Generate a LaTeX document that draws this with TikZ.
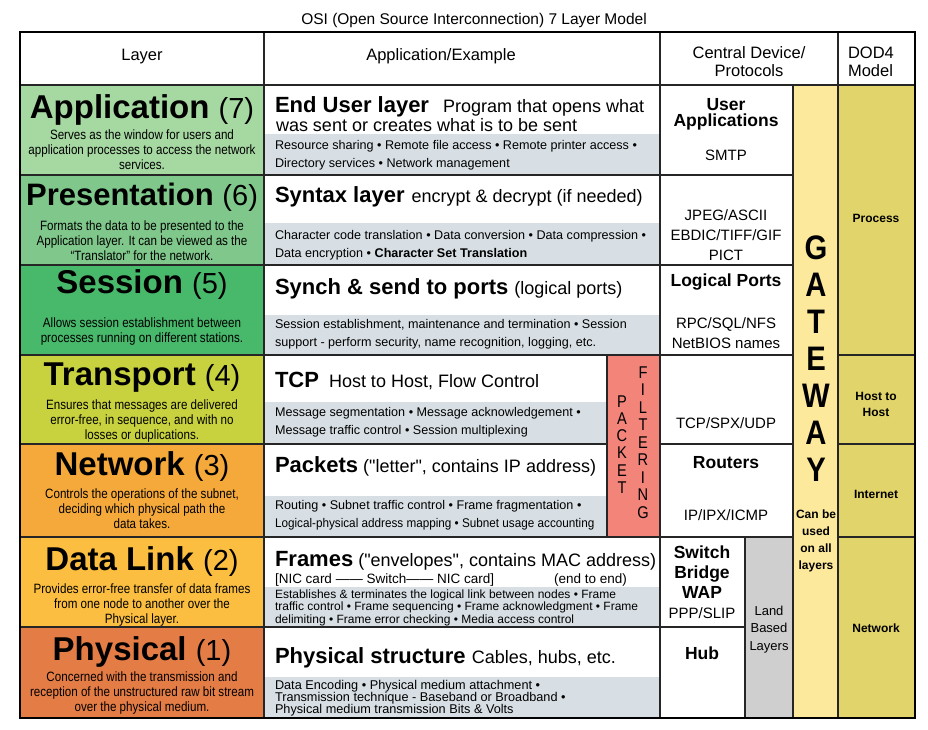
\documentclass[tikz,border=0pt]{standalone}
\usepackage{fontspec}
\setmainfont{Liberation Sans}[Ligatures=TeXOff]
\newfontfamily\narrowf{Liberation Sans}[FakeStretch=0.86,Ligatures=TeXOff]
\newfontfamily\semif{Liberation Sans}[FakeStretch=0.93,Ligatures=TeXOff]
\newcommand\myfs[2]{\fontsize{#1}{#2}\selectfont\lineskiplimit=-30pt\relax}
\newcommand\lnum[1]{{\mdseries\myfs{29}{30}#1}}
\newcommand\hb[1]{{\bfseries\myfs{22}{24}#1}}
\definecolor{cApp}{HTML}{A6D8A2}
\definecolor{cPres}{HTML}{7FC78A}
\definecolor{cSess}{HTML}{48B86B}
\definecolor{cTrans}{HTML}{C8D23E}
\definecolor{cNet}{HTML}{F5A93B}
\definecolor{cDL}{HTML}{FBBE40}
\definecolor{cPhys}{HTML}{E47C46}
\definecolor{cGrey}{HTML}{D8DFE4}
\definecolor{cPack}{HTML}{F2847A}
\definecolor{cLand}{HTML}{CFCFCF}
\definecolor{cGate}{HTML}{FDE99C}
\definecolor{cDod}{HTML}{E1D46A}
\begin{document}
\begin{tikzpicture}[x=1pt,y=-1pt,
 every node/.style={inner sep=0pt,outer sep=0pt},
 grid/.style={line width=1.4pt,draw={black!85}},
 frame/.style={line width=2pt,draw=black},
 hdr/.style={anchor=base,align=center,font=\myfs{16.5}{18}},
 ttl/.style={anchor=base,font=\bfseries\myfs{33}{36}},
 desc/.style={anchor=base,align=center,font=\narrowf\myfs{13.5}{15}},
 head/.style={anchor=base west,font=\myfs{18}{20}},
 grey/.style={anchor=base west,align=left,font=\myfs{12.6}{18}},
 ctr/.style={anchor=base,align=center,font=\myfs{15}{20}},
 ctrb/.style={anchor=base,align=center,font=\bfseries\myfs{17.5}{20}},
 gate/.style={anchor=base,align=center,font=\narrowf\bfseries\myfs{34}{37}},
 pack/.style={anchor=base,align=center,font=\narrowf\myfs{17}{17.3}},
 small/.style={anchor=base,align=center,font=\bfseries\myfs{12}{17}},
 land/.style={anchor=base,align=center,font=\myfs{13}{17.5}}
]
\useasboundingbox (0,0) rectangle (928,729);
\fill[white] (0,0) rectangle (928,729);
% layer column fills
\fill[cApp] (20,85) rectangle (264,175);
\fill[cPres] (20,175) rectangle (264,265);
\fill[cSess] (20,265) rectangle (264,355);
\fill[cTrans] (20,355) rectangle (264,444);
\fill[cNet] (20,444) rectangle (264,537);
\fill[cDL] (20,537) rectangle (264,627);
\fill[cPhys] (20,627) rectangle (264,718);
% grey bands
\fill[cGrey] (264,134) rectangle (660,175);
\fill[cGrey] (264,223) rectangle (660,265);
\fill[cGrey] (264,315) rectangle (660,355);
\fill[cGrey] (264,402) rectangle (607,444);
\fill[cGrey] (264,496) rectangle (607,537);
\fill[cGrey] (264,587) rectangle (660,627);
\fill[cGrey] (264,677) rectangle (660,718);
% special columns
\fill[cPack] (607,355) rectangle (660,537);
\fill[cLand] (745,537) rectangle (793,718);
\fill[cGate] (793,85) rectangle (838,718);
\fill[cDod] (838,85) rectangle (915,718);
% grid lines
\draw[grid] (264,32) -- (264,718);
\draw[grid] (660,32) -- (660,718);
\draw[grid] (838,32) -- (838,718);
\draw[grid] (793,85) -- (793,718);
\draw[grid] (745,537) -- (745,718);
\draw[grid] (607,355) -- (607,537);
\draw[grid] (20,85) -- (915,85);
\foreach \yy in {175,265,355,537} {\draw[grid] (20,\yy) -- (793,\yy);}
\draw[grid] (20,444) -- (607,444);
\draw[grid] (660,444) -- (793,444);
\draw[grid] (20,627) -- (745,627);
\foreach \yy in {355,444,537} {\draw[grid] (838,\yy) -- (915,\yy);}
\draw[frame] (20,32) rectangle (915,718);
% title and headers
\node[anchor=base,font=\myfs{15.5}{17}] (title) at (474,24) {OSI (Open Source Interconnection) 7 Layer Model};
\node[hdr] (hLayer) at (142,60) {Layer};
\node[hdr] (hAppEx) at (441,60) {Application/Example};
\node[hdr] (hCentral) at (749,76) {Central Device/\\Protocols};
\node[hdr,anchor=base west,align=left] (hDod) at (848,76) {DOD4\\Model};
% layer titles
\node[ttl] (tApp) at (142,118) {Application \lnum{(7)}};
\node[ttl,font=\bfseries\myfs{31}{34}] (tPres) at (142,205) {Presentation \lnum{(6)}};
\node[ttl] (tSess) at (142,293) {Session \lnum{(5)}};
\node[ttl] (tTrans) at (142,385) {Transport \lnum{(4)}};
\node[ttl] (tNet) at (142,475) {Network \lnum{(3)}};
\node[ttl] (tDL) at (142,570) {Data Link \lnum{(2)}};
\node[ttl] (tPhys) at (142,660) {Physical \lnum{(1)}};
% layer descriptions (anchor = baseline of last line)
\node[desc] (dApp) at (142,169.5) {Serves as the window for users and\\application processes to access the network\\services.};
\node[desc] (dPres) at (142,260) {Formats the data to be presented to the\\Application layer. It can be viewed as the\\“Translator” for the network.};
\node[desc] (dSess) at (142,342) {Allows session establishment between\\processes running on different stations.};
\node[desc] (dTrans) at (142,439) {Ensures that messages are delivered\\error-free, in sequence, and with no\\losses or duplications.};
\node[desc] (dNet) at (142,528) {Controls the operations of the subnet,\\deciding which physical path the\\data takes.};
\node[desc] (dDL) at (142,623) {Provides error-free transfer of data frames\\from one node to another over the\\Physical layer.};
\node[desc] (dPhys) at (142,711) {Concerned with the transmission and\\reception of the unstructured raw bit stream\\over the physical medium.};
% application/example heads
\node[head] (aApp) at (275,112.5) {\hb{End User layer}\hspace{14pt}Program that opens what};
\node[head] (aApp2) at (276,131) {was sent or creates what is to be sent};
\node[head] (aPres) at (275,202) {\hb{Syntax layer}\hspace{7pt}encrypt \& decrypt (if needed)};
\node[head] (aSess) at (275,294) {\hb{Synch \& send to ports}\hspace{6pt}(logical ports)};
\node[head] (aTrans) at (275,387) {\hb{TCP}\hspace{10pt}Host to Host, Flow Control};
\node[head] (aNet) at (275,472) {\hb{Packets}\hspace{5pt}("letter", contains IP address)};
\node[head] (aDL) at (275,566) {\hb{Frames}\hspace{5pt}("envelopes", contains MAC address)};
\node[head,font=\myfs{13.5}{15}] (aDL2) at (275,583) {[NIC card —— Switch—— NIC card]};
\node[head,font=\myfs{13.5}{15}] (aDL3) at (554,583) {(end to end)};
\node[head] (aPhys) at (275,663) {\hb{Physical structure}\hspace{6pt}Cables, hubs, etc.};
% grey detail text (anchor = baseline of last line)
\node[grey] (gApp) at (275,167) {Resource sharing • Remote file access • Remote printer access •\\Directory services • Network management};
\node[grey] (gPres) at (275,257) {Character code translation • Data conversion • Data compression •\\Data encryption • \textbf{Character Set Translation}};
\node[grey] (gSess) at (275,346) {Session establishment, maintenance and termination • Session\\support - perform security, name recognition, logging, etc.};
\node[grey] (gTrans) at (275,434) {Message segmentation • Message acknowledgement •\\Message traffic control • Session multiplexing};
\node[grey] (gNet) at (275,527) {Routing • Subnet traffic control • Frame fragmentation •\\{\semif Logical-physical address mapping • Subnet usage accounting}};
\node[grey,font=\myfs{12}{12.7}] (gDL) at (275,623.4) {Establishes \& terminates the logical link between nodes • Frame\\traffic control • Frame sequencing • Frame acknowledgment • Frame\\delimiting • Frame error checking • Media access control};
\node[grey,font=\myfs{12.7}{12}] (gPhys) at (275,713) {Data Encoding • Physical medium attachment •\\Transmission technique - Baseband or Broadband •\\Physical medium transmission Bits \& Volts};
% central device / protocols
\node[ctrb,font=\bfseries\myfs{17.5}{16}] (cApp) at (726,126) {User\\Applications};
\node[ctr] (cApp2) at (726,160) {SMTP};
\node[ctr] (cPres) at (726,260) {JPEG/ASCII\\EBDIC/TIFF/GIF\\PICT};
\node[ctrb] (cSess) at (726,286) {Logical Ports};
\node[ctr] (cSess2) at (726,348) {RPC/SQL/NFS\\NetBIOS names};
\node[ctr] (cTrans) at (726,428) {TCP/SPX/UDP};
\node[ctrb] (cNet) at (726,468) {Routers};
\node[ctr] (cNet2) at (726,520) {IP/IPX/ICMP};
\node[ctrb] (cDL) at (702,598) {Switch\\Bridge\\WAP};
\node[ctr] (cDL2) at (702,618) {PPP/SLIP};
\node[ctrb] (cPhys) at (702,659) {Hub};
\node[land] (land) at (769,650) {Land\\Based\\Layers};
% packet filtering
\node[pack] (pk1) at (622,493.5) {P\\A\\C\\K\\E\\T};
\node[pack,font=\narrowf\myfs{17}{17.5}] (pk2) at (643,518) {F\\I\\L\\T\\E\\R\\I\\N\\G};
% gateway
\node[gate] (gw) at (816,481) {G\\A\\T\\E\\W\\A\\Y};
\node[small] (gw2) at (816,569) {Can be\\used\\on all\\layers};
% DOD4 model
\node[small] (dod1) at (876,222) {Process};
\node[small,font=\bfseries\myfs{12}{16}] (dod2) at (876,416) {Host to\\Host};
\node[small] (dod3) at (876,498) {Internet};
\node[small] (dod4) at (876,632) {Network};
\end{tikzpicture}
\end{document}
